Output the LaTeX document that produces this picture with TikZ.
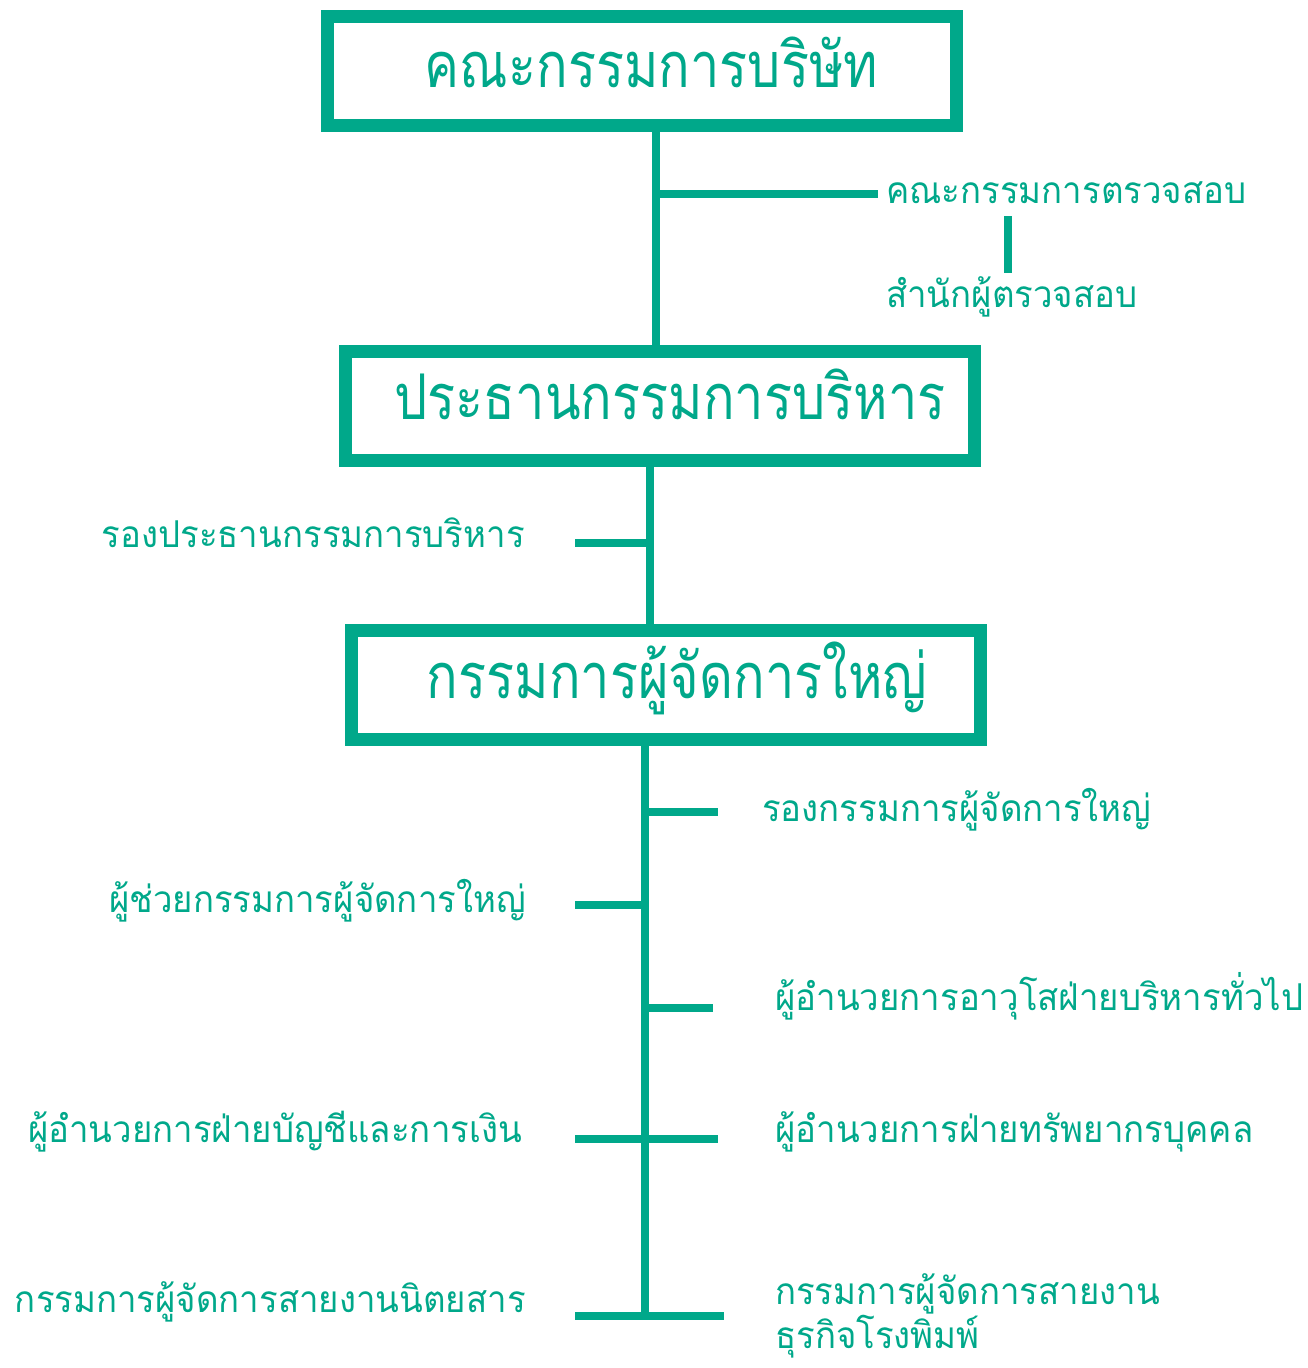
\documentclass[tikz,border=0pt]{standalone}
\usepackage{fontspec}
\newfontfamily\thaibig[Script=Thai,FakeStretch=0.83]{Loma}
\newfontfamily\thaismall[Script=Thai,FakeStretch=0.94]{Loma}
\definecolor{tealc}{RGB}{0,168,138}
\begin{document}
\begin{tikzpicture}[x=1pt,y=-1pt,
  bigbox/.style={draw=tealc,line width=13pt,minimum width=629pt,minimum height=109pt,inner sep=0pt},
  bigtext/.style={text=tealc,font=\thaibig\fontsize{63}{72}\selectfont,inner sep=0pt},
  smalltext/.style={text=tealc,font=\thaismall\fontsize{37}{46}\selectfont,inner sep=0pt},
  conn/.style={draw=tealc,line width=8pt}]
\useasboundingbox (0,0) rectangle (1307,1368);
% boxes
\node[bigbox] (b1) at (641.5,70.5) {};
\node[bigbox] (b2) at (660,406) {};
\node[bigbox] (b3) at (666,684.5) {};
\node[bigtext,anchor=base] (t1) at (651.5,87) {คณะกรรมการบริษัท};
\node[bigtext,anchor=base] (t2) at (670,419) {ประธานกรรมการบริหาร};
\node[bigtext,anchor=base] (t3) at (677,698) {กรรมการผู้จัดการใหญ่};
% texts
\node[smalltext,anchor=base west] (audit) at (886,203) {คณะกรรมการตรวจสอบ};
\node[smalltext,anchor=base west] (office) at (886,307) {สำนักผู้ตรวจสอบ};
\node[smalltext,anchor=base east] (vpexec) at (525,547) {รองประธานกรรมการบริหาร};
\node[smalltext,anchor=base west] (dmd) at (762,821) {รองกรรมการผู้จัดการใหญ่};
\node[smalltext,anchor=base east] (amd) at (526,912) {ผู้ช่วยกรรมการผู้จัดการใหญ่};
\node[smalltext,anchor=base west] (sga) at (775,1010) {ผู้อำนวยการอาวุโสฝ่ายบริหารทั่วไป};
\node[smalltext,anchor=base east] (fin) at (522,1142) {ผู้อำนวยการฝ่ายบัญชีและการเงิน};
\node[smalltext,anchor=base west] (hr) at (775,1142) {ผู้อำนวยการฝ่ายทรัพยากรบุคคล};
\node[smalltext,anchor=base east] (mag) at (526,1312) {กรรมการผู้จัดการสายงานนิตยสาร};
\node[smalltext,anchor=base west,align=left,font=\thaismall\fontsize{37}{40}\selectfont] (print) at (775,1348) {กรรมการผู้จัดการสายงาน\\ธุรกิจโรงพิมพ์};
% coordinates
\coordinate (j1) at (656,194);
\coordinate (e1) at (878,194);
\coordinate (a1) at (1008,216);
\coordinate (a2) at (1008,273);
\coordinate (j2) at (650,543);
\coordinate (e2) at (575,543);
\coordinate (j3) at (645,812);
\coordinate (e3) at (718,812);
\coordinate (j4) at (645,905);
\coordinate (e4) at (575,905);
\coordinate (j5) at (645,1008);
\coordinate (e5) at (713,1008);
\coordinate (l6) at (575,1139);
\coordinate (r6) at (718,1139);
\coordinate (l7) at (575,1315.5);
\coordinate (r7) at (724,1315.5);
\coordinate (bot) at (645,1315.5);
% connectors
\draw[conn] (b1.south -| j1) -- (b2.north -| j1);
\draw[conn] (j1) -- (e1);
\draw[conn] (a1) -- (a2);
\draw[conn] (b2.south -| j2) -- (b3.north -| j2);
\draw[conn] (j2) -- (e2);
\draw[conn] (b3.south -| j3) -- (bot);
\draw[conn] (j3) -- (e3);
\draw[conn] (j4) -- (e4);
\draw[conn] (j5) -- (e5);
\draw[conn] (l6) -- (r6);
\draw[conn] (l7) -- (r7);
\end{tikzpicture}
\end{document}
